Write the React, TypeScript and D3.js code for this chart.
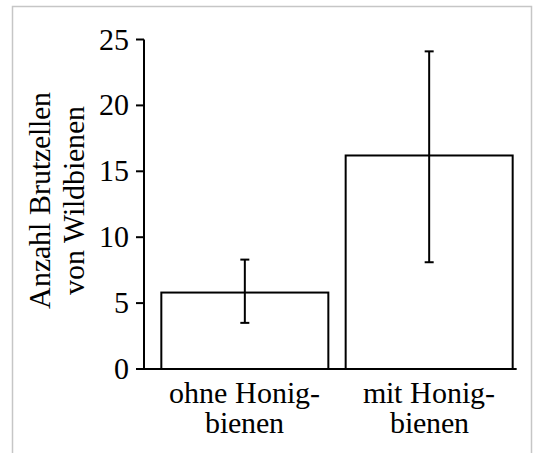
import React, { useEffect, useLayoutEffect, useRef, useState } from 'react';
import * as d3 from 'd3';

// values
const groups = ['ohne', 'mit'];
const groupLabels = [['ohne Honig-', 'bienen'], ['mit Honig-', 'bienen']];
const means = [5.8, 16.2];
const errLow = [3.5, 8.1];
const errHigh = [8.3, 24.1];
const yTicks = [0, 5, 10, 15, 20, 25];
const yTitle = ['Anzahl Brutzellen', 'von Wildbienen'];

const W = 534;
const H = 453;
const FONT = 'SerifLocal, "Liberation Serif", Tinos, "Times New Roman", "DejaVu Serif"';
const FACE = `@font-face { font-family: SerifLocal; src: local("Liberation Serif"), local("LiberationSerif"), local("Tinos"); }`;

const y = d3.scaleLinear().domain([0, 25]).range([369, 39.5]);
const x = d3.scaleBand<string>()
  .domain(groups)
  .range([144, 530])
  .paddingInner(0.094)
  .paddingOuter(0.094);

const cx = (i: number) => x(groups[i])! + x.bandwidth() / 2;

export default function App() {
  // measure text widths so labels can be aligned without text-anchor
  const refs = useRef<Record<string, SVGTextElement | null>>({});
  const [widths, setWidths] = useState<Record<string, number>>({});
  const measure = () => {
    const w: Record<string, number> = {};
    Object.keys(refs.current).forEach(k => {
      const el = refs.current[k];
      if (el) w[k] = el.getComputedTextLength();
    });
    setWidths(w);
  };
  useLayoutEffect(measure, []);
  useEffect(() => {
    if (document.fonts) document.fonts.ready.then(measure);
  }, []);
  const wd = (k: string) => widths[k] || 0;

  const x0 = x.range()[0];
  const lastEnd = x(groups[groups.length - 1])! + x.bandwidth();
  const line = { stroke: '#000', strokeWidth: 2 };
  const txt = { fontFamily: FONT, fontSize: 30 };

  return (
    <div style={{ position: 'absolute', left: 0, top: 0 }}>
      <style>{FACE}</style>
      <svg width={W} height={H} style={{ display: 'block', background: '#fff', fontFamily: FONT }}>
        {/* outer frame */}
        <rect x={12.5} y={6.5} width={519} height={470} fill="none" stroke="#c6c6c6" strokeWidth={1.5} />

        {/* bars */}
        {means.map((d, i) => (
          <rect key={'b' + i} x={x(groups[i])} y={y(d)} width={x.bandwidth()} height={y(0) - y(d)}
            fill="#fff" {...line} />
        ))}

        {/* error bars */}
        {means.map((d, i) => (
          <g key={'e' + i}>
            <line x1={cx(i)} x2={cx(i)} y1={y(errLow[i])} y2={y(errHigh[i])} {...line} />
            <line x1={cx(i) - 4.5} x2={cx(i) + 4.5} y1={y(errLow[i])} y2={y(errLow[i])} {...line} />
            <line x1={cx(i) - 4.5} x2={cx(i) + 4.5} y1={y(errHigh[i])} y2={y(errHigh[i])} {...line} />
          </g>
        ))}

        {/* y axis */}
        <line x1={x0} x2={x0} y1={y(0)} y2={y(25)} {...line} />
        {yTicks.map(t => (
          <g key={'t' + t}>
            <line x1={x0 - 8} x2={x0} y1={y(t)} y2={y(t)} {...line} />
            <text ref={el => { refs.current['t' + t] = el; }}
              x={x0 - 15 - wd('t' + t)} y={y(t) + 10} style={txt}>{t}</text>
          </g>
        ))}

        {/* x baseline */}
        <line x1={x0 - 8} x2={lastEnd + 4} y1={y(0)} y2={y(0)} {...line} />

        {/* category labels */}
        {groupLabels.map((lines, i) =>
          lines.map((l, k) => {
            const key = 'c' + i + k;
            return (
              <text key={key} ref={el => { refs.current[key] = el; }}
                x={cx(i) - wd(key) / 2} y={403 + k * 30} style={txt}>{l}</text>
            );
          })
        )}

        {/* y title */}
        {yTitle.map((l, k) => {
          const key = 'y' + k;
          return (
            <g key={key} transform={`translate(${50 + k * 34},200) rotate(-90)`}>
              <text ref={el => { refs.current[key] = el; }} x={-wd(key) / 2} y={0} style={txt}>{l}</text>
            </g>
          );
        })}
      </svg>
    </div>
  );
}
